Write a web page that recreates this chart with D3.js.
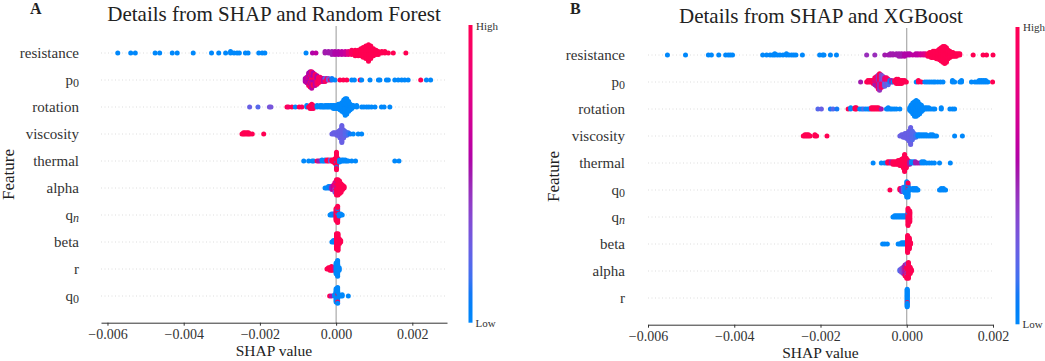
<!DOCTYPE html>
<html>
<head>
<meta charset="utf-8">
<script src="https://cdn.jsdelivr.net/npm/d3@7"></script>
<style>
  body { margin: 0; background: #fff; }
  text { font-family: "Liberation Serif", "Times New Roman", serif; }
</style>
</head>
<body>
<svg id="chart" width="1045" height="361"></svg>
<script>
// feature order, top to bottom
const featuresRF = ["resistance", "p0", "rotation", "viscosity", "thermal", "alpha", "qn", "beta", "r", "q0"];
const featuresXGB = ["resistance", "p0", "rotation", "viscosity", "thermal", "q0", "qn", "beta", "alpha", "r"];
const xTicks = [-0.006, -0.004, -0.002, 0, 0.002];

// dots: [SHAP value, dots stacked at that value, feature value 0 = low .. 1 = high]
const rfResistance = [[-0.00573,1,0],[-0.00539,1,0],[-0.00527,1,0],[-0.00475,1,0],[-0.00463,1,0],[-0.0043,1,0],[-0.00417,1,0],
  [-0.00375,1,0],[-0.00327,1,0],[-0.00308,1,0],[-0.0029,1,0],[-0.00277,2,0],[-0.00268,1,0],[-0.0026,1,0],[-0.00254,1,0],
  [-0.00238,1,0],[-0.00231,1,0],[-0.00203,1,0],[-0.00194,1,0],[-0.00187,1,0],[-0.00079,1,0],
  [-0.00062,1,.55],[-0.00053,1,.6],[-0.00029,2,.5],[-0.0002,2,.5],[-0.00011,3,.5],[-0.00003,3,.55],[0.00006,3,.55],
  [0.00015,3,.6],[0.00024,3,.65],[0.00032,3,.8],
  [0.00041,4,.95],[0.0005,5,1],[0.00058,5,1],[0.00065,6,1],[0.00071,8,1],[0.00078,10,1],[0.00085,13,1],[0.00091,10,1],
  [0.00098,6,1],[0.00105,4,1],[0.00111,3,1],[0.0012,2,1],[0.00128,2,1],[0.00137,1,1],[0.0015,1,1],[0.00183,1,1]];
const rfP0 = [[-0.00081,3,.55],[-0.00077,5,.6],[-0.00072,7,.55],[-0.00072,3,.9],[-0.00068,8,.55],[-0.00068,4,.95],
  [-0.00064,8,.6],[-0.00064,5,.9],[-0.0006,6,.55],[-0.0006,4,1],[-0.00055,5,.6],[-0.00055,4,.95],[-0.0005,4,.9],
  [-0.0005,3,.55],[-0.00046,5,.95],[-0.00042,4,.9],[-0.00037,3,.95],[-0.00033,3,.6],[-0.00029,2,.95],[-0.00029,1,.2],
  [-0.00024,2,.9],[-0.0002,2,.3],[-0.00015,1,.9],[-0.00011,2,.1],[-0.00003,1,0],[0.0001,1,1],[0.00019,1,1],[0.00028,1,1],
  [0.00041,1,0],[0.00048,1,0],[0.00063,1,1],[0.00067,1,0],[0.00089,1,0],[0.00111,1,0],[0.00115,1,0],[0.00132,1,0],
  [0.00137,1,0],[0.00154,1,0],[0.00163,1,0],[0.00172,1,0],[0.0018,1,0],[0.00189,1,0],[0.00222,1,1],[0.00237,1,0],[0.00248,1,0]];
const rfRotation = [[-0.00227,1,.25],[-0.00205,1,.2],[-0.00175,1,.3],[-0.00171,1,.3],[-0.00129,1,1],[-0.00125,1,.9],
  [-0.00116,1,1],[-0.00107,1,0],[-0.00097,1,1],[-0.0009,1,.95],[-0.00077,2,0],[-0.00072,1,1],[-0.00068,3,1],[-0.00064,4,1],
  [-0.0006,3,.95],[-0.0005,2,0],[-0.00042,2,0],[-0.00037,2,0],[-0.00033,1,0],[-0.00029,2,0],[-0.00024,2,0],[-0.0002,2,0],
  [-0.00015,2,0],[-0.00011,2,0],[-0.00007,3,0],[-0.00003,3,0],[0.00002,3,0],[0.00006,4,0],[0.0001,5,0],[0.00015,7,0],
  [0.0002,10,0],[0.00024,13,0],[0.00028,12,0],[0.00033,8,0],[0.00037,5,0],[0.00041,3,0],[0.00045,2,0],[0.00054,2,0],
  [0.00067,1,0],[0.00073,1,0],[0.0008,1,0],[0.00086,1,0],[0.00093,1,0],[0.00102,1,0],[0.00119,1,0],[0.00126,1,0],[0.00141,1,0]];
const rfViscosity = [[-0.00247,1,1],[-0.00243,2,1],[-0.00239,2,1],[-0.00234,2,1],[-0.0023,2,1],[-0.00226,1,1],[-0.0022,1,1],
  [-0.0019,1,1],[-0.00011,1,.25],[-0.00007,2,.25],[-0.00003,2,.25],[0.00002,3,.25],[0.00006,4,.25],[0.0001,7,.25],
  [0.00015,15,.25],[0.0002,7,.25],[0.00024,4,.2],[0.00028,3,.2],[0.00032,2,.15],[0.00037,1,.1],[0.00045,1,0],[0.00058,1,0],[0.00067,1,0]];
const rfThermal = [[-0.00085,1,0],[-0.00072,1,0],[-0.00063,1,0],[-0.00059,1,0],[-0.0005,1,1],[-0.00046,1,.5],[-0.00042,1,.5],
  [-0.00037,2,0],[-0.00033,1,0],[-0.00029,2,0],[-0.00024,2,1],[-0.0002,2,1],[-0.00015,2,.2],[-0.00011,2,1],[-0.00007,3,1],
  [-0.00003,5,1],[0.00001,15,1],[0.00001,2,0],[0.00005,4,1],[0.00009,3,0],[0.00015,2,0],[0.00019,2,0],[0.00024,2,0],
  [0.00028,1,0],[0.00032,1,0],[0.00041,1,0],[0.00051,1,0],[0.00154,1,0],[0.00165,1,0]];
const rfAlpha = [[-0.00029,1,0],[-0.00025,1,0],[-0.0002,2,0],[-0.00016,2,.1],[-0.00011,3,.5],[-0.00007,4,.6],[-0.00003,6,.8],
  [-0.00003,2,.3],[0.00001,10,1],[0.00001,2,.5],[0.00005,12,1],[0.00009,10,1],[0.00013,7,1],[0.00017,4,1],[0.00021,2,1]];
const rfQn = [[-0.00016,1,0],[-0.00012,2,0],[-0.00008,2,0],[-0.00004,2,.1],[0,12,1],[0.00004,2,0],[0.00004,14,1],
  [0.00008,3,0],[0.00012,2,0],[0.00016,1,0]];
const rfBeta = [[-0.00011,1,0],[-0.00007,2,0],[-0.00003,2,0],[0.00001,12,1],[0.00005,13,1],[0.00009,4,1],[0.00012,2,1]];
const rfR = [[-0.00024,1,1],[-0.0002,2,1],[-0.00016,3,1],[-0.00012,4,1],[-0.00008,3,1],[-0.00004,2,.8],[0,10,0],
  [0.00004,14,0],[0.00008,3,0]];
const rfQ0 = [[-0.00017,1,1],[-0.00012,1,.5],[-0.00004,2,0],[0,12,0],[0.00004,12,0],[0.00004,2,1],[0.00008,2,0],
  [0.00012,1,0],[0.00016,2,0],[0.00032,1,0]];

const xgbResistance = [[-0.00555,1,0],[-0.00513,1,0],[-0.0046,1,0],[-0.00453,1,0],[-0.00436,1,0],[-0.0042,1,0],[-0.00414,1,0],
  [-0.00409,1,0],[-0.00404,1,0],[-0.00334,1,0],[-0.00325,1,0],[-0.00317,1,0],[-0.00311,1,0],[-0.00306,2,0],[-0.003,1,0],
  [-0.00294,1,0],[-0.00287,1,0],[-0.00279,2,0],[-0.00273,1,0],[-0.00267,1,0],[-0.00262,1,0],[-0.00257,1,0],[-0.00242,1,0],
  [-0.00202,1,0],[-0.00195,1,0],[-0.00192,1,0],[-0.00177,1,0],[-0.00163,1,0],
  [-0.00093,1,.45],[-0.00074,1,.45],[-0.00051,1,.5],[-0.00043,1,.5],[-0.00038,2,.5],[-0.00032,2,.5],[-0.00024,2,.5],
  [-0.00018,3,.5],[-0.00012,3,.5],[-0.00005,3,.55],[0.00002,2,.55],[0.00007,2,.55],[0.00014,1,.6],[0.00021,2,.6],
  [0.00026,2,.6],[0.00032,2,.65],[0.00038,2,.7],[0.00043,2,.75],
  [0.00049,3,.95],[0.00053,4,1],[0.00057,5,1],[0.00061,6,1],[0.00065,6,1],[0.00069,7,1],[0.00073,8,1],[0.00076,10,1],
  [0.0008,12,1],[0.00084,14,1],[0.00088,15,1],[0.00092,13,1],[0.00096,8,1],[0.001,6,1],[0.00104,4,1],[0.00107,4,1],
  [0.00111,3,1],[0.00115,3,1],[0.00119,2,1],[0.00123,2,1],[0.00154,1,1],[0.00177,1,1],[0.00185,1,1],[0.002,1,1]];
const xgbP0 = [[-0.00107,1,.5],[-0.00093,1,1],[-0.0009,2,1],[-0.00086,2,1],[-0.00082,2,1],[-0.00078,3,1],[-0.00074,4,.95],
  [-0.00074,2,.5],[-0.0007,5,.9],[-0.0007,3,.5],[-0.00066,6,.9],[-0.00066,5,.45],[-0.00063,6,1],[-0.00063,7,.45],
  [-0.00059,5,.9],[-0.00059,5,.4],[-0.00055,4,.9],[-0.00055,4,.3],[-0.00051,3,.8],[-0.00051,4,.2],[-0.00047,3,.3],
  [-0.00047,3,.9],[-0.00043,3,.2],[-0.00043,2,.9],[-0.00039,2,.1],[-0.00035,2,.5],[-0.00032,1,0],[-0.00028,2,1],
  [-0.00024,4,1],[-0.0002,4,1],[-0.00016,3,1],[-0.00012,3,1],[-0.00009,2,1],[-0.00005,2,1],[-0.00001,1,1],[0.00022,1,0],
  [0.00027,2,1],[0.00034,1,1],[0.00042,1,0],[0.00047,1,0],[0.00052,1,0],[0.00057,1,0],[0.00062,1,0],[0.00066,1,0],
  [0.00072,1,0],[0.00078,1,0],[0.00084,1,0],[0.00106,2,0],[0.00111,1,0],[0.00123,1,0],[0.00127,2,0],[0.0015,1,0],
  [0.00158,1,0],[0.00163,1,0],[0.00168,2,0],[0.00173,2,0],[0.00178,2,0],[0.00183,2,0],[0.00188,1,0],[0.00199,1,1]];
const xgbRotation = [[-0.00206,1,.2],[-0.00198,1,.25],[-0.00177,1,.1],[-0.00171,1,.2],[-0.00162,1,.1],[-0.00136,1,1],
  [-0.0013,2,0],[-0.0012,2,1],[-0.00117,2,1],[-0.00109,1,0],[-0.00104,1,0],[-0.001,1,.2],[-0.00095,1,0],[-0.0009,1,0],
  [-0.00086,1,0],[-0.00082,2,1],[-0.00078,2,1],[-0.00074,2,1],[-0.0007,2,1],[-0.00066,2,1],[-0.00062,1,1],[-0.00059,1,.5],
  [-0.00047,1,0],[-0.00043,2,0],[-0.00038,1,0],[-0.00034,1,0],[-0.00029,1,0],[-0.00024,1,0],[-0.00016,1,0],
  [0.00007,3,0],[0.0001,6,0],[0.00014,10,0],[0.00018,13,0],[0.00022,14,0],[0.00026,12,0],[0.0003,9,0],[0.00034,6,0],
  [0.00037,3,0],[0.00042,2,0],[0.00046,2,0],[0.00051,2,0],[0.00056,1,0],[0.00061,1,0],[0.00065,1,0],[0.0008,2,0],
  [0.001,1,0],[0.00106,1,0],[0.00111,1,0]];
const xgbViscosity = [[-0.0024,1,1],[-0.00236,2,1],[-0.00232,2,1],[-0.00228,2,1],[-0.00224,1,1],[-0.00213,2,1],[-0.00209,1,1],
  [-0.00185,1,1],[-0.00016,1,.25],[-0.00012,2,.25],[-0.00008,3,.25],[-0.00004,4,.25],[0,5,.25],[0.00005,9,.25],
  [0.00009,15,.25],[0.00013,8,.2],[0.00017,4,.2],[0.00021,3,.15],[0.00026,2,0],[0.0003,2,0],[0.00035,2,0],[0.0004,2,0],
  [0.00045,2,0],[0.0005,1,0],[0.00055,2,0],[0.0006,2,0],[0.00065,1,0],[0.00069,1,0],[0.00111,1,0],[0.00129,1,0]];
const xgbThermal = [[-0.00078,1,0],[-0.00059,1,0],[-0.00052,1,0],[-0.00047,1,0],[-0.00044,2,1],[-0.0004,2,1],[-0.00036,2,.5],
  [-0.00032,3,1],[-0.00028,3,1],[-0.00024,3,1],[-0.0002,4,1],[-0.00016,5,1],[-0.00012,6,1],[-0.00008,9,1],[-0.00005,15,1],
  [-0.00001,9,1],[0.00003,4,1],[0.00007,3,.5],[0.00011,2,0],[0.00016,2,0],[0.0002,2,.5],[0.00025,1,.5],[0.0003,1,.5],
  [0.00035,2,0],[0.0004,2,0],[0.00046,1,0],[0.00052,1,0],[0.00058,1,0],[0.00064,1,0],[0.00076,1,0],[0.00101,1,0]];
const xgbQ0 = [[-0.00039,1,1],[-0.00016,2,1],[-0.00012,3,.5],[-0.00008,4,.2],[-0.00004,5,0],[0,12,0],[0.00003,8,0],
  [0.00003,3,1],[0.00007,2,0],[0.00014,2,0],[0.00018,2,0],[0.00022,2,0],[0.00026,1,0],[0.00076,1,0],[0.0008,2,0],
  [0.00085,2,0],[0.0009,1,0]];
const xgbQn = [[-0.00032,1,0],[-0.00028,2,0],[-0.00024,2,0],[-0.0002,2,0],[-0.00016,2,0],[-0.00012,2,0],[-0.00008,2,0],
  [-0.00004,2,0],[0,2,0],[0.00003,1,0],[0.00003,14,1],[0.00007,10,1]];
const xgbBeta = [[-0.00056,1,0],[-0.00051,1,0],[-0.00045,1,0],[-0.0002,1,0],[-0.00016,1,0],[-0.00012,2,0],[-0.00008,2,0],
  [-0.00004,2,0],[0.00002,15,1],[0.00006,10,1],[0.00009,2,1]];
const xgbAlpha = [[-0.00016,2,.2],[-0.00012,4,.3],[-0.00008,6,.4],[-0.00004,7,.5],[-0.00004,3,1],[0,9,1],[0,4,.4],
  [0.00004,14,1],[0.00008,6,1],[0.00011,2,1]];
const xgbR = [[0.00001,20,0],[0.00001,1,1]];

const dataRF = [rfResistance, rfP0, rfRotation, rfViscosity, rfThermal, rfAlpha, rfQn, rfBeta, rfR, rfQ0];
const dataXGB = [xgbResistance, xgbP0, xgbRotation, xgbViscosity, xgbThermal, xgbQ0, xgbQn, xgbBeta, xgbAlpha, xgbR];

// shap's red_blue map: Lch from blue to red, lightness dipping in the middle
const color = t => d3.hcl(266.9 + t * 113.4, 70 + 20 * t, t < 0.5 ? 54 - 28 * t : 40 + 28 * (t - 0.5)).formatRgb();
const svg = d3.select("#chart");

// colour bar gradient
const grad = svg.append("defs").append("linearGradient")
    .attr("id", "cbar").attr("x1", 0).attr("x2", 0).attr("y1", 1).attr("y2", 0);
d3.range(0, 1.0001, 0.05).forEach(t => grad.append("stop").attr("offset", t).attr("stop-color", color(t)));

const panels = [
  {features: featuresRF, data: dataRF, letter: "A", letterX: 30, title: "Details from SHAP and Random Forest",
   titleX: 274, titleY: 20.5, domain: [-0.00617, 0.00291], range: [101, 447], top: 26, bottom: 323,
   labelX: 79, ylabX: 13.5, xlabY: 356, cbX: 468.5, cbTop: 25, cbBottom: 322.7, hiY: 29.5, loY: 327},
  {features: featuresXGB, data: dataXGB, letter: "B", letterX: 570, title: "Details from SHAP and XGBoost",
   titleX: 821, titleY: 22.5, domain: [-0.006, 0.002], range: [648, 993], top: 28, bottom: 325,
   labelX: 625, ylabX: 558.5, xlabY: 357.5, cbX: 1015.5, cbTop: 27, cbBottom: 324.3, hiY: 31, loY: 328}
];

function label(sel, name) {
  if (name === "p0" || name === "q0" || name === "qn") {
    sel.append("tspan").text(name[0]);
    sel.append("tspan").attr("dy", 2).attr("font-size", 12)
      .attr("font-style", name === "qn" ? "italic" : "normal").text(name.slice(1));
  } else {
    sel.text(name);
  }
}

panels.forEach(p => {
  const g = svg.append("g");
  const x = d3.scaleLinear().domain(p.domain).range(p.range);
  const y = d3.scaleLinear().domain([-1, p.features.length]).range([p.bottom, p.top]);
  const rowH = y(0) - y(1);
  const n = p.features.length;

  // dotted row guides
  g.append("g").selectAll("line").data(p.features).join("line")
    .attr("x1", p.range[0]).attr("x2", p.range[1])
    .attr("y1", (d, i) => y(n - 1 - i)).attr("y2", (d, i) => y(n - 1 - i))
    .attr("stroke", "#d4d4d4").attr("stroke-width", 0.8).attr("stroke-dasharray", "1,2.5");

  // zero line
  g.append("line").attr("x1", x(0)).attr("x2", x(0)).attr("y1", p.top).attr("y2", p.bottom)
    .attr("stroke", "#999").attr("stroke-width", 1);

  // beeswarm layout, like shap: stacks alternate up and down, scaled per row
  const dots = [];
  p.data.forEach((row, i) => {
    const bins = new Map();
    row.forEach(([v, cnt, c]) => {
      if (!bins.has(v)) bins.set(v, []);
      for (let k = 0; k < cnt; k++) bins.get(v).push({v, c, key: (k + 0.5) / cnt});
    });
    let maxAbs = 0;
    const rowDots = [];
    bins.forEach(list => {
      list.sort((a, b) => a.key - b.key);
      list.forEach((d, layer) => {
        d.ys = Math.ceil(layer / 2) * ((layer % 2) * 2 - 1);
        maxAbs = Math.max(maxAbs, Math.abs(d.ys));
        rowDots.push(d);
      });
    });
    const unit = 0.9 * 0.4 * rowH / (maxAbs + 1);
    rowDots.forEach(d => { d.cy = y(n - 1 - i) - d.ys * unit; dots.push(d); });
  });

  g.append("g").selectAll("circle").data(dots).join("circle")
    .attr("cx", d => x(d.v)).attr("cy", d => d.cy).attr("r", 2.5)
    .attr("fill", d => color(d.c));

  // x axis
  const ax = g.append("g").attr("transform", `translate(0,${p.bottom - 0.3})`)
    .call(d3.axisBottom(x).tickValues(xTicks).tickSize(3).tickSizeOuter(0).tickPadding(3)
      .tickFormat(d3.format(".3f")));
  ax.select(".domain").attr("stroke", "#333");
  ax.selectAll(".tick line").attr("stroke", "#333");
  ax.selectAll(".tick text").attr("fill", "#333").attr("font-size", 14)
    .attr("font-family", "Liberation Serif, serif");

  g.append("text").attr("x", (p.range[0] + p.range[1]) / 2).attr("y", p.xlabY)
    .attr("text-anchor", "middle").attr("font-size", 15.5).attr("fill", "#222").text("SHAP value");

  // feature names
  g.append("g").selectAll("text").data(p.features).join("text")
    .attr("x", p.labelX).attr("y", (d, i) => y(n - 1 - i) + 4.5)
    .attr("text-anchor", "end").attr("font-size", 15).attr("fill", "#333")
    .each(function(d) { label(d3.select(this), d); });

  g.append("text").attr("transform", `translate(${p.ylabX},${(p.top + p.bottom) / 2}) rotate(-90)`)
    .attr("text-anchor", "middle").attr("font-size", 17).attr("fill", "#222").text("Feature");

  // title and panel letter
  g.append("text").attr("x", p.titleX).attr("y", p.titleY).attr("text-anchor", "middle")
    .attr("font-size", 21).attr("fill", "#222").text(p.title);
  g.append("text").attr("x", p.letterX).attr("y", 13.5).attr("font-size", 16).attr("font-weight", "bold")
    .attr("fill", "#222").text(p.letter);

  // colour bar
  g.append("rect").attr("x", p.cbX).attr("y", p.cbTop).attr("width", 4)
    .attr("height", p.cbBottom - p.cbTop).attr("fill", "url(#cbar)");
  g.append("text").attr("x", p.cbX + 7.5).attr("y", p.hiY).attr("font-size", 11).attr("fill", "#333").text("High");
  g.append("text").attr("x", p.cbX + 7).attr("y", p.loY).attr("font-size", 11).attr("fill", "#333").text("Low");
});
</script>
</body>
</html>
